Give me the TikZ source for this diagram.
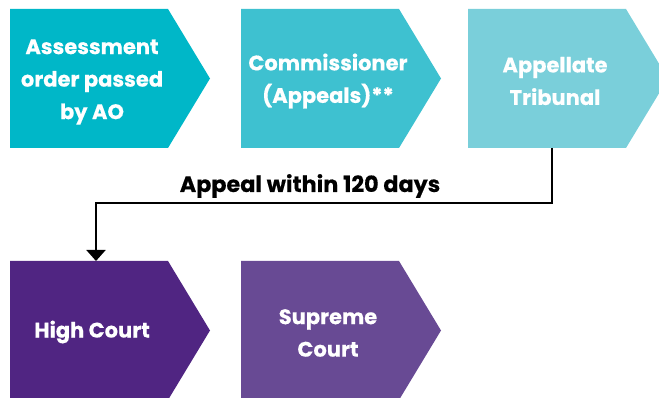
\documentclass[tikz,border=0pt]{standalone}
\usepackage{fontspec}
\setmainfont{Poppins}[BoldFeatures={FakeBold=0.4}]
\usetikzlibrary{arrows.meta}
\definecolor{cA}{RGB}{0,183,200}
\definecolor{cB}{RGB}{62,193,208}
\definecolor{cC}{RGB}{122,207,218}
\definecolor{cD}{RGB}{80,37,130}
\definecolor{cE}{RGB}{104,74,148}
\newcommand\chevshape[3]{\fill[#3] (#1,#2) -- ++(158,0) -- ++(42,69.5) -- ++(-42,69.5) -- ++(-158,0) -- cycle;}
\tikzset{
  boxtext/.style={text=white, font=\bfseries\fontsize{21}{32.5}\selectfont, align=center, inner sep=0pt},
  conn/.style={line width=2pt, line join=miter, -{Triangle[width=19pt,length=11pt]}},
  lbltext/.style={text=black, font=\bfseries\fontsize{22.3}{26}\selectfont, inner sep=0pt}
}
\begin{document}
\begin{tikzpicture}[x=1pt,y=-1pt]
\useasboundingbox (0,0) rectangle (659,398);
\clip (0,0) rectangle (659,398);
\chevshape{10}{9}{cA}
\chevshape{241}{9}{cB}
\chevshape{468}{9}{cC}
\chevshape{10}{261}{cD}
\chevshape{241}{261}{cE}
\node[boxtext] (ao) at (92,82) {Assessment\\order passed\\by AO};
\node[boxtext] (cit) at (328,81) {Commissioner\\(Appeals)**};
\node[boxtext] (itat) at (555,81) {Appellate\\Tribunal};
\node[boxtext] (hc) at (92,332) {High Court};
\node[boxtext] (sc) at (328,333) {Supreme\\Court};
\coordinate (itatBottom) at (552,148);
\coordinate (hcTop) at (96,261);
\coordinate (bend) at (0,203);
\draw[conn] (itatBottom) -- (itatBottom |- bend) -| (hcTop);
\node[lbltext, anchor=base] (lbl) at (310,192) {Appeal within 120 days};
\end{tikzpicture}
\end{document}
